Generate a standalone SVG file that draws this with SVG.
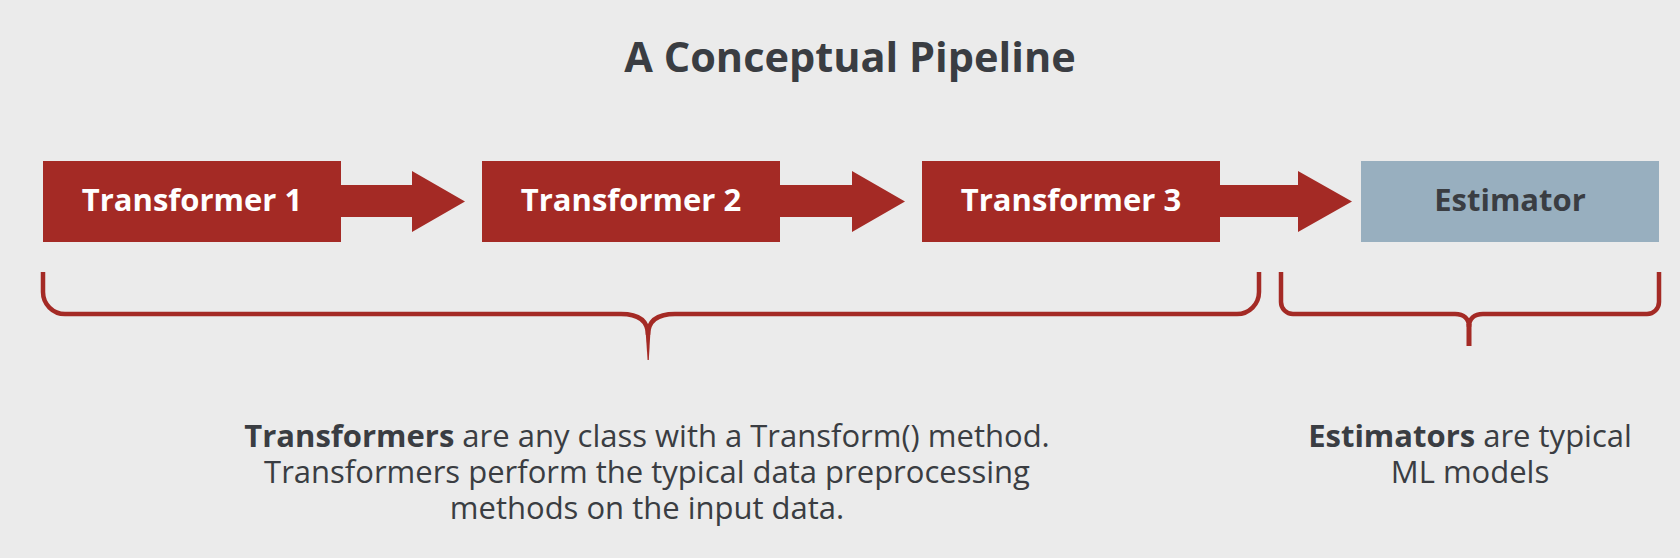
<svg xmlns="http://www.w3.org/2000/svg" width="1680" height="558" viewBox="0 0 1680 558">
  <style>
    .bg { fill: #ebebeb; }
    .tbox { fill: #a42a25; }
    .ebox { fill: #98afbf; }
    .arrow { fill: #a42a25; }
    .brace { fill: none; stroke: #a42a25; stroke-width: 4.5; stroke-linecap: butt; stroke-linejoin: round; }
    .stem { fill: #a42a25; }
    .title { font-family: "Open Sans", "Liberation Sans", sans-serif; font-weight: 700; font-size: 41.5px; fill: #3a3d42; }
    .lbl { font-family: "Open Sans", "Liberation Sans", sans-serif; font-weight: 700; font-size: 31px; fill: #ffffff; }
    .lbl-dark { fill: #3a3d42; }
    .desc { font-family: "Open Sans", "Liberation Sans", sans-serif; font-weight: 400; font-size: 31px; fill: #3a3d42; }
    .b { font-weight: 700; }
  </style>
  <rect class="bg" x="0" y="0" width="1680" height="558"/>

  <text class="title" x="850" y="72" text-anchor="middle">A Conceptual Pipeline</text>

  <g id="connectors">
    <polygon class="arrow" points="341,185 412,185 412,171 465,201.5 412,232 412,217 341,217"/>
    <polygon class="arrow" points="780,185 852,185 852,171 905,201.5 852,232 852,217 780,217"/>
    <polygon class="arrow" points="1220,185 1298,185 1298,171 1352,201.5 1298,232 1298,217 1220,217"/>
  </g>

  <g id="transformer1">
    <rect class="tbox" x="43" y="161" width="298" height="81"/>
    <text class="lbl" x="192" y="211" text-anchor="middle">Transformer 1</text>
  </g>
  <g id="transformer2">
    <rect class="tbox" x="482" y="161" width="298" height="81"/>
    <text class="lbl" x="631" y="211" text-anchor="middle">Transformer 2</text>
  </g>
  <g id="transformer3">
    <rect class="tbox" x="922" y="161" width="298" height="81"/>
    <text class="lbl" x="1071" y="211" text-anchor="middle">Transformer 3</text>
  </g>
  <g id="estimator">
    <rect class="ebox" x="1361" y="161" width="298" height="81"/>
    <text class="lbl lbl-dark" x="1510" y="211" text-anchor="middle">Estimator</text>
  </g>

  <g id="braces">
    <path class="brace" d="M43,272 V292 A22,22 0 0 0 65,314 H621 C640,314 648,322 648,335 M675,314 C656,314 648,322 648,335 M675,314 H1237 A22,22 0 0 0 1259,292 V272"/>
    <polygon class="stem" points="645.5,330 650.5,330 648.8,360 647.6,360"/>
    <path class="brace" d="M1281,272 V302 A12,12 0 0 0 1293,314 H1455 C1464,314 1469,319 1469,327 M1483,314 C1474,314 1469,319 1469,327 M1483,314 H1647 A12,12 0 0 0 1659,302 V272"/>
    <rect class="stem" x="1466.5" y="324" width="5" height="22"/>
  </g>

  <g id="transformers-note">
    <text class="desc" x="647" y="447" text-anchor="middle"><tspan class="b">Transformers</tspan> are any class with a Transform() method.</text>
    <text class="desc" x="647" y="483" text-anchor="middle">Transformers perform the typical data preprocessing</text>
    <text class="desc" x="647" y="519" text-anchor="middle">methods on the input data.</text>
  </g>
  <g id="estimators-note">
    <text class="desc" x="1470" y="447" text-anchor="middle"><tspan class="b">Estimators</tspan> are typical</text>
    <text class="desc" x="1470" y="483" text-anchor="middle">ML models</text>
  </g>
</svg>
